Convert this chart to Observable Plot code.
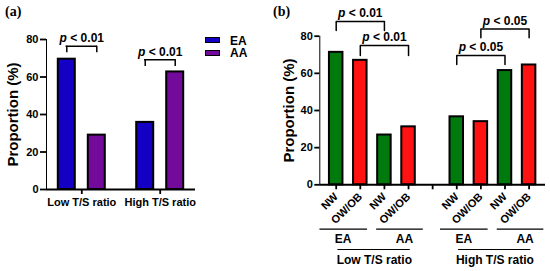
<!DOCTYPE html>
<html><head><meta charset="utf-8">
<script src="https://cdn.jsdelivr.net/npm/d3@7"></script>
<script src="https://cdn.jsdelivr.net/npm/@observablehq/plot@0.6"></script>
<style>
html,body{margin:0;padding:0;background:#fff;}
#wrap{position:relative;width:550px;height:271px;overflow:hidden;font-family:"Liberation Sans",Arial,sans-serif;}
.panel{position:absolute;top:0;}
.panel svg{overflow:visible;}
.panel g[aria-label*="axis"]{stroke-width:1.8;}
#plotB g[aria-label^="x-axis"] text{font-size:11px;}
.tag{position:absolute;font-family:"Liberation Serif","Times New Roman",serif;font-weight:bold;font-size:14px;line-height:14px;}
.lg{position:absolute;font-weight:bold;font-size:12px;line-height:12px;}
.sw{position:absolute;box-sizing:border-box;width:15px;height:6px;border:1.5px solid #000;}
</style></head>
<body><div id="wrap"></div>
<script>
// ---------- Panel (a) data ----------
const groupsA = ["Low T/S ratio", "High T/S ratio"];
const raceA = ["EA", "AA"];
const valuesA_EA = [69.5, 35.8];
const valuesA_AA = [29.0, 62.7];
const colorsA = ["#1400c4", "#740a9c"];
const pLabelsA = ["p < 0.01", "p < 0.01"];
const bracketTopA = [76.4, 69.2];
const bracketBottomA = [72.9, 65.6];

// ---------- Panel (b) data ----------
const groupsB = ["Low T/S ratio", "High T/S ratio"];
const raceB = ["EA", "AA"];
const bmiB = ["NW", "OW/OB"];
// order: Low(EA NW, EA OW/OB, AA NW, AA OW/OB), High(...)
const valuesB = [71.3, 67.0, 26.8, 31.2, 36.6, 34.0, 61.5, 64.5];
const colorsB = ["#007a0c", "#ff1212"];
const bracketPairsB = [[0, 2], [1, 3], [4, 6], [5, 7]];
const pLabelsB = ["p < 0.01", "p < 0.01", "p < 0.05", "p < 0.05"];
const bracketTopB = [87.9, 75.0, 69.6, 83.9];
const bracketBottomB = [83.1, 69.6, 64.8, 79.1];

const yTicks = [0, 20, 40, 60, 80];
const yTitle = "Proportion (%)";

const font = '"Liberation Sans", Arial, sans-serif';
const wrap = document.getElementById("wrap");

function italicP(svg) {
  d3.select(svg).selectAll("text").filter(function () {
    return /^p </.test(this.textContent);
  }).each(function () {
    const rest = this.textContent.slice(1);
    const s = d3.select(this);
    s.text(null);
    s.append("tspan").attr("font-style", "italic").text("p");
    s.append("tspan").text(rest);
  });
}

// ---------- Panel (a) ----------
const WA = 275, mLA = 46, mRA = 80;
const piA = 0.2, poA = 0.05;
const stepA = (WA - mLA - mRA) / (groupsA.length - piA + 2 * poA);
const bwA = stepA * (1 - piA);
const offA = 15, barWA = 17;

const rowsA = groupsA.flatMap((g, i) => [
  {group: g, race: raceA[0], value: valuesA_EA[i]},
  {group: g, race: raceA[1], value: valuesA_AA[i]}
]);
const bracketsA = groupsA.map((g, i) => ({group: g, top: bracketTopA[i], bottom: bracketBottomA[i], label: pLabelsA[i]}));

const plotA = Plot.plot({
  width: WA, height: 271,
  marginLeft: mLA, marginRight: mRA, marginTop: 39, marginBottom: 82,
  style: {fontFamily: font, fontSize: "11px", fontWeight: "bold", background: "transparent", color: "#000"},
  x: {domain: groupsA, paddingInner: piA, paddingOuter: poA, round: false, label: null, tickSize: 5, tickPadding: 4},
  y: {domain: [0, 80], ticks: yTicks, label: null, tickSize: 6, tickPadding: 2, line: true},
  color: {domain: raceA, range: colorsA},
  marks: [
    Plot.barY(rowsA.filter(d => d.race === raceA[0]), {x: "group", y: "value", fill: "race", stroke: "#000", strokeWidth: 2,
      insetLeft: bwA / 2 - offA - barWA / 2, insetRight: bwA / 2 + offA - barWA / 2}),
    Plot.barY(rowsA.filter(d => d.race === raceA[1]), {x: "group", y: "value", fill: "race", stroke: "#000", strokeWidth: 2,
      insetLeft: bwA / 2 + offA - barWA / 2, insetRight: bwA / 2 - offA - barWA / 2}),
    Plot.ruleY([0], {strokeWidth: 2}),
    Plot.ruleX(bracketsA, {x: "group", y1: "bottom", y2: "top", dx: -offA, strokeWidth: 1.5}),
    Plot.ruleX(bracketsA, {x: "group", y1: "bottom", y2: "top", dx: offA, strokeWidth: 1.5}),
    Plot.ruleY(bracketsA, {y: "top", x1: "group", x2: "group", insetLeft: bwA / 2 - offA - 0.75, insetRight: bwA / 2 - offA - 0.75, strokeWidth: 1.5}),
    Plot.text(bracketsA, {x: "group", y: "top", text: "label", dy: -8, fontSize: 12}),
    Plot.text([yTitle], {text: d => d, frameAnchor: "left", textAnchor: "middle", rotate: -90, dx: -33, fontSize: 15})
  ]
});
italicP(plotA);
const divA = document.createElement("div");
divA.className = "panel"; divA.id = "plotA"; divA.style.left = "0px";
divA.appendChild(plotA);
wrap.appendChild(divA);

// ---------- Panel (b) ----------
const WB = 275;
const keyOf = (g, r, b) => `${g}|${r}|${b}`;
const rowsB = [];
groupsB.forEach(g => raceB.forEach(r => bmiB.forEach(b => rowsB.push({key: keyOf(g, r, b), group: g, race: r, bmi: b}))));
rowsB.forEach((d, i) => d.value = valuesB[i]);
const keysLow = rowsB.filter(d => d.group === groupsB[0]).map(d => d.key);
const keysHigh = rowsB.filter(d => d.group === groupsB[1]).map(d => d.key);
const domainB = [...keysLow, "gap", ...keysHigh];

const bracketLinesB = bracketPairsB.flatMap(([a, b], i) => [
  {id: i, key: rowsB[a].key, y: bracketBottomB[i]},
  {id: i, key: rowsB[a].key, y: bracketTopB[i]},
  {id: i, key: rowsB[b].key, y: bracketTopB[i]},
  {id: i, key: rowsB[b].key, y: bracketBottomB[i]}
]);
const bracketTextB = bracketPairsB.map(([a, b], i) => ({key: rowsB[(a + b) / 2].key, y: bracketTopB[i], label: pLabelsB[i]}));

const raceSpans = [];
groupsB.forEach(g => raceB.forEach(r => {
  const ks = rowsB.filter(d => d.group === g && d.race === r).map(d => d.key);
  raceSpans.push({race: r, group: g, k1: ks[0], k2: ks[ks.length - 1]});
}));
const groupSpans = groupsB.map(g => {
  const ks = rowsB.filter(d => d.group === g).map(d => d.key);
  return {group: g, k1: ks[0], k2: ks[ks.length - 1], kMid: ks[ks.length / 2 - 1]};
});

const plotB = Plot.plot({
  width: WB, height: 271,
  marginLeft: 44.3, marginRight: 5, marginTop: 35.7, marginBottom: 86.7,
  style: {fontFamily: font, fontSize: "11px", fontWeight: "bold", background: "transparent", color: "#000"},
  x: {domain: domainB, paddingInner: 0.44, paddingOuter: 0.4, round: false, label: null, tickSize: 5, tickPadding: 5,
      tickRotate: -45, tickFormat: k => k === "gap" ? "" : k.split("|")[2]},
  y: {domain: [0, 80], ticks: yTicks, label: null, tickSize: 5, tickPadding: 2, line: true},
  color: {domain: bmiB, range: colorsB},
  marks: [
    Plot.barY(rowsB, {x: "key", y: "value", fill: "bmi", stroke: "#000", strokeWidth: 2}),
    Plot.ruleY([0], {strokeWidth: 2}),
    Plot.line(bracketLinesB, {x: "key", y: "y", z: "id", strokeWidth: 1.5, curve: "linear"}),
    Plot.text(bracketTextB, {x: "key", y: "y", text: "label", dy: -8, fontSize: 12}),
    Plot.ruleY(raceSpans.filter(d => d.race === raceB[0]), {y: 0, x1: "k1", x2: "k2", dy: 44.4, insetLeft: -9.5, insetRight: -0.5, strokeWidth: 1.2}),
    Plot.ruleY(raceSpans.filter(d => d.race === raceB[1]), {y: 0, x1: "k1", x2: "k2", dy: 44.4, insetLeft: -1, insetRight: -8, strokeWidth: 1.2}),
    Plot.text(raceSpans.filter(d => d.race === raceB[0]), {x: "k1", y: 0, text: "race", dy: 54.7, dx: 7, fontSize: 12}),
    Plot.text(raceSpans.filter(d => d.race === raceB[1]), {x: "k2", y: 0, text: "race", dy: 54.7, dx: -4, fontSize: 12}),
    Plot.ruleY(groupSpans, {y: 0, x1: "k1", x2: "k2", dy: 64.7, insetLeft: 8.5, insetRight: 5, strokeWidth: 1.2}),
    Plot.text(groupSpans, {x: "kMid", y: 0, text: "group", dy: 75.7, dx: 14, fontSize: 12}),
    Plot.text([yTitle], {text: d => d, frameAnchor: "left", textAnchor: "middle", rotate: -90, dx: -31, fontSize: 15})
  ]
});
italicP(plotB);
const divB = document.createElement("div");
divB.className = "panel"; divB.id = "plotB"; divB.style.left = "275px";
divB.appendChild(plotB);
wrap.appendChild(divB);

// ---------- Panel tags & legend ----------
[["(a)", 5], ["(b)", 273]].forEach(([t, x]) => {
  const d = document.createElement("div");
  d.className = "tag"; d.textContent = t; d.style.left = x + "px"; d.style.top = "5px";
  wrap.appendChild(d);
});
raceA.forEach((r, i) => {
  const sw = document.createElement("div");
  sw.className = "sw"; sw.style.left = "205px"; sw.style.top = (37.3 + i * 12.7) + "px"; sw.style.background = colorsA[i];
  wrap.appendChild(sw);
  const t = document.createElement("div");
  t.className = "lg"; t.textContent = r; t.style.left = "230px"; t.style.top = (34.5 + i * 12.7) + "px";
  wrap.appendChild(t);
});
</script>
</body></html>
